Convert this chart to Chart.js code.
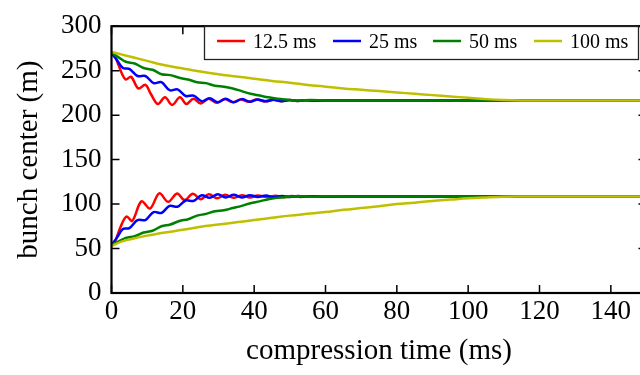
<!DOCTYPE html>
<html>
<head>
<meta charset="utf-8">
<script src="https://cdn.jsdelivr.net/npm/chart.js@4.4.0/dist/chart.umd.min.js"></script>
<style>
  html, body { margin: 0; padding: 0; background: #fff; overflow: hidden; }
  #wrap { width: 640px; height: 375px; overflow: hidden; }
</style>
</head>
<body>
<div id="wrap"><canvas id="chart" width="660" height="375"></canvas></div>
<script>
// series meta
const seriesLabels = ['12.5 ms', '25 ms', '50 ms', '100 ms'];
const seriesColors = ['#ff0000', '#0000ff', '#008000', '#bfbf00'];

// axis ticks
const xTicks = [0, 20, 40, 60, 80, 100, 120, 140];
const yTicks = [0, 50, 100, 150, 200, 250, 300];

// 12.5 ms
const redTimeUp = [0, 1, 2, 3, 4, 5.5, 7.5, 9.5, 11, 13, 15, 17, 19.2, 21, 23, 25, 27.2, 29.5, 31.7, 34, 36.2, 38.5, 40.7, 43, 45.3, 47.5, 49.8, 52, 54.3, 57, 62, 150];
const redUpper = [270, 266, 256, 246, 240, 243, 230, 234, 224, 212.5, 220, 211.5, 220, 212.5, 218.5, 213, 218.5, 214, 218, 214.5, 217.5, 215, 217.5, 215.5, 217.3, 215.7, 217, 216, 216.8, 216.3, 216.5, 216.5];
const redTimeLow = [0, 1, 2.5, 4.2, 5.8, 8.4, 10.8, 13.4, 15.9, 18.4, 20.5, 22.8, 25, 27.3, 29.6, 31.9, 34.2, 36.5, 38.8, 41, 43.5, 46, 48.3, 50.6, 53, 55.3, 58, 62, 150];
const redLower = [54, 58, 74, 86, 81, 103, 95, 112, 102.5, 112, 104.5, 111.5, 105.5, 111, 106.5, 110.5, 107, 110, 107.5, 109.5, 108, 109.3, 107.8, 109, 108, 108.8, 108.3, 108.5, 108.5];

// 25 ms
const blueTime = [0, 1.5, 3.2, 5, 7.3, 9.5, 11.8, 14, 16.3, 18.5, 20.8, 23, 25.3, 27.5, 29.8, 32, 34.3, 36.5, 38.8, 41, 43.3, 45.5, 47.8, 50, 52.3, 54.5, 57, 62, 150];
const blueUpper = [270, 262, 253, 252, 244, 244, 236, 237, 228, 229, 221.5, 222, 215.5, 219, 214.5, 218.5, 214.5, 218, 215, 217.5, 215.5, 217.3, 215.7, 217, 216, 216.8, 216.3, 216.5, 216.5];
const blueLower = [54, 62, 72, 73, 82, 82, 91, 90, 98, 97, 104, 103.5, 110, 107, 111, 107.5, 110.5, 107.5, 110, 108, 109.5, 107.8, 109.2, 108, 109, 108.2, 108.7, 108.5, 108.5];

// 50 ms
const greenTime = [0, 2, 4, 6.5, 9, 11.5, 14, 16.5, 19, 21.5, 24, 26.5, 29, 31.5, 34, 36.5, 39, 41.5, 44, 46.5, 49, 52, 56, 60, 70, 150];
const greenUpper = [270, 265, 260, 258, 253, 251, 246, 245, 242, 240, 237, 236, 233, 232, 230, 227, 224, 222, 220, 218.5, 217.5, 216.5, 217, 216.5, 216.5, 216.5];
const greenLower = [54, 58, 62, 64, 68, 70, 75, 77, 81, 83, 87, 89, 92, 93, 95.5, 98, 101, 103, 105.5, 107, 108, 108.8, 108.3, 108.7, 108.5, 108.5];

// 100 ms
const yellowTime = [0, 3, 6, 10, 15, 20, 25, 30, 35, 40, 45, 50, 55, 60, 65, 70, 75, 80, 85, 90, 95, 100, 105, 110, 115, 120, 150];
const yellowUpper = [271, 268, 265, 261, 256, 252.5, 249, 246, 243.5, 241, 238.5, 236.5, 234, 232, 230, 228.5, 227, 225.5, 224, 222.5, 221, 219.5, 218, 217, 216.5, 216.5, 216.5];
const yellowLower = [53, 58, 61, 64.5, 68, 71, 74.5, 77, 79.5, 82, 84.5, 87, 89, 91, 93.5, 95.5, 97.5, 100, 101.5, 103.5, 105, 106.5, 107.5, 108.3, 108.5, 108.5, 108.5];

const curves = [
  { s: 0, t: redTimeUp, v: redUpper },
  { s: 0, t: redTimeLow, v: redLower },
  { s: 1, t: blueTime, v: blueUpper },
  { s: 1, t: blueTime, v: blueLower },
  { s: 2, t: greenTime, v: greenUpper },
  { s: 2, t: greenTime, v: greenLower },
  { s: 3, t: yellowTime, v: yellowUpper },
  { s: 3, t: yellowTime, v: yellowLower },
];

const serif = "'Liberation Serif', 'Times New Roman', serif";
Chart.defaults.color = '#000';
Chart.defaults.font.family = serif;

// inward ticks on all four sides + frame
const frameTicks = {
  id: 'frameTicks',
  afterDatasetsDraw(chart) {
    const { ctx, chartArea: a, scales: { x, y } } = chart;
    const len = 8;
    ctx.save();
    ctx.strokeStyle = '#000';
    ctx.lineWidth = 1.5;
    ctx.beginPath();
    xTicks.forEach((v) => {
      const px = x.getPixelForValue(v);
      ctx.moveTo(px, a.bottom); ctx.lineTo(px, a.bottom - len);
      ctx.moveTo(px, a.top); ctx.lineTo(px, a.top + len);
    });
    yTicks.forEach((v) => {
      const py = y.getPixelForValue(v);
      ctx.moveTo(a.left, py); ctx.lineTo(a.left + len, py);
      ctx.moveTo(a.right, py); ctx.lineTo(a.right - len, py);
    });
    ctx.stroke();
    ctx.lineWidth = 2.2;
    ctx.strokeRect(a.left, a.top, a.right - a.left, a.bottom - a.top);
    ctx.restore();
  },
};

// legend box in the upper right corner
const boxLegend = {
  id: 'boxLegend',
  afterDraw(chart) {
    const { ctx } = chart;
    const left = 204, top = 26, right = 638, bottom = 59;
    const lineX = [217, 333, 433, 534];
    ctx.save();
    ctx.fillStyle = '#fff';
    ctx.fillRect(left, top, right - left, bottom - top);
    ctx.strokeStyle = '#222';
    ctx.lineWidth = 1.3;
    ctx.strokeRect(left + 0.5, top + 0.5, right - left, bottom - top);
    ctx.font = '20px ' + serif;
    ctx.textBaseline = 'middle';
    ctx.fillStyle = '#000';
    seriesLabels.forEach((lab, i) => {
      ctx.strokeStyle = seriesColors[i];
      ctx.lineWidth = 2.5;
      ctx.beginPath();
      ctx.moveTo(lineX[i], 41);
      ctx.lineTo(lineX[i] + 28, 41);
      ctx.stroke();
      ctx.fillText(lab, lineX[i] + 36, 42.5);
    });
    ctx.restore();
  },
};

new Chart(document.getElementById('chart'), {
  type: 'line',
  data: {
    datasets: curves.map((c) => ({
      label: seriesLabels[c.s],
      data: c.t.map((t, i) => ({ x: t, y: c.v[i] })),
      borderColor: seriesColors[c.s],
      borderWidth: 2.5,
      pointRadius: 0,
      tension: 0.35,
      fill: false,
      order: 4 - c.s,
    })),
  },
  options: {
    responsive: false,
    animation: false,
    events: [],
    layout: { padding: { left: 0, top: 16, right: 13.5, bottom: 0 } },
    plugins: {
      legend: { display: false },
      tooltip: { enabled: false },
    },
    scales: {
      x: {
        type: 'linear',
        min: 0,
        max: 150,
        afterBuildTicks: (s) => { s.ticks = xTicks.map((v) => ({ value: v })); },
        afterFit: (s) => { s.height = 82; },
        grid: { display: false, drawTicks: false },
        border: { display: false },
        ticks: { font: { size: 27 }, padding: 3, maxRotation: 0 },
        title: {
          display: true,
          text: 'compression time (ms)',
          font: { size: 29 },
          padding: { top: 0, bottom: 6 },
        },
      },
      y: {
        min: 0,
        max: 300,
        afterBuildTicks: (s) => { s.ticks = yTicks.map((v) => ({ value: v })); },
        afterFit: (s) => { s.width = 111.5; },
        grid: { display: false, drawTicks: false },
        border: { display: false },
        ticks: { font: { size: 27 }, padding: 10 },
        title: {
          display: true,
          text: 'bunch center (m)',
          font: { size: 29 },
          padding: { top: 12, bottom: 0 },
        },
      },
    },
  },
  plugins: [frameTicks, boxLegend],
});
</script>
</body>
</html>
